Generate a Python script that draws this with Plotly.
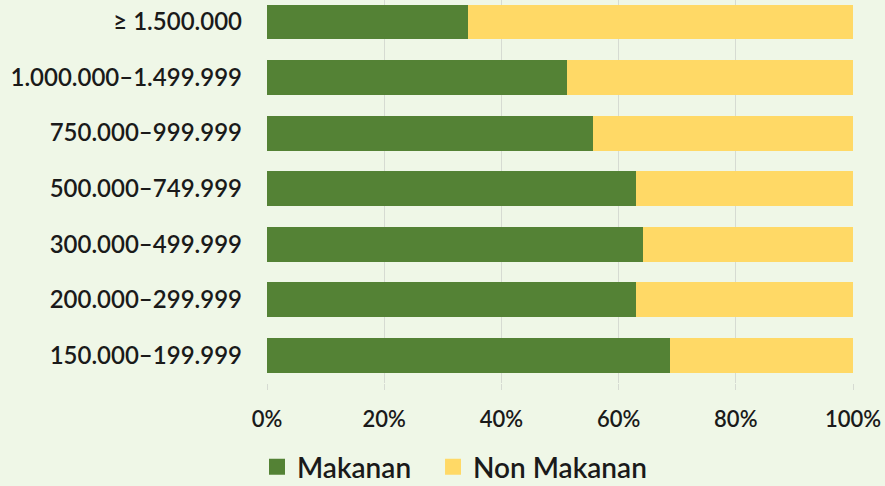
import plotly.graph_objects as go

# income groups (Rp / month), bottom to top
categories = [
    "150.000–199.999",
    "200.000–299.999",
    "300.000–499.999",
    "500.000–749.999",
    "750.000–999.999",
    "1.000.000–1.499.999",
    "≥ 1.500.000",
]
makanan = [68.8, 63.0, 64.2, 63.0, 55.6, 51.2, 34.3]
non_makanan = [31.2, 37.0, 35.8, 37.0, 44.4, 48.8, 65.7]
x_ticks = [0, 20, 40, 60, 80, 100]

GREEN = "#548235"
YELLOW = "#FFD966"
BG = "#EFF7E7"
FONT = "Lato"

fig = go.Figure()

fig.add_trace(go.Bar(
    y=categories,
    x=makanan,
    name="Makanan",
    orientation="h",
    marker=dict(color=GREEN, line=dict(width=0)),
    showlegend=False,
))

fig.add_trace(go.Bar(
    y=categories,
    x=non_makanan,
    name="Non Makanan",
    orientation="h",
    marker=dict(color=YELLOW, line=dict(width=0)),
    showlegend=False,
))

# legend entries with bigger square swatches, one legend each so they can be spaced
for name, color, leg in [("Makanan", GREEN, "legend"), ("Non Makanan", YELLOW, "legend2")]:
    fig.add_trace(go.Scatter(
        x=[None], y=[None],
        mode="markers",
        name=name,
        legend=leg,
        marker=dict(symbol="square", size=16, color=color),
    ))

legend_style = dict(
    orientation="h",
    xref="container",
    yref="container",
    xanchor="left",
    y=0.039,
    yanchor="middle",
    font=dict(size=28, color="#1a1a1a", weight=600),
    bgcolor="rgba(0,0,0,0)",
    itemsizing="trace",
)

fig.update_layout(
    width=885,
    height=486,
    barmode="stack",
    bargap=0.37,
    paper_bgcolor=BG,
    plot_bgcolor=BG,
    margin=dict(l=267, r=32, t=0, b=103, autoexpand=False),
    font=dict(family=FONT, size=22, color="#1a1a1a"),
    legend=dict(x=0.2904, **legend_style),
    legend2=dict(x=0.4893, **legend_style),
    xaxis=dict(
        range=[0, 100],
        tickvals=x_ticks,
        ticktext=[f"{v}%" for v in x_ticks],
        showgrid=True,
        gridcolor="#D6DBD2",
        gridwidth=1,
        zeroline=False,
        ticks="outside",
        ticklen=6,
        tickcolor="#D6DBD2",
        ticklabelstandoff=11,
        tickfont=dict(size=22, weight=600),
        showline=False,
        fixedrange=True,
    ),
    yaxis=dict(
        categoryorder="array",
        categoryarray=categories,
        range=[-0.5, 6.396],
        showgrid=False,
        zeroline=False,
        ticks="",
        ticklabelstandoff=24,
        tickfont=dict(size=24, weight=600),
        fixedrange=True,
    ),
)

fig.write_html(
    "out.html",
    config={"displayModeBar": False},
    post_script="document.body.style.margin='0';document.body.style.background='%s';" % BG,
)
